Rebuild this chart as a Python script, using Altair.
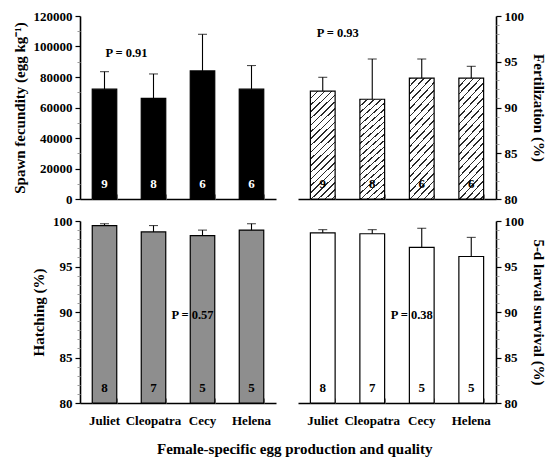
import altair as alt
import pandas as pd

# ---------------- data ----------------
cats = ["Juliet", "Cleopatra", "Cecy", "Helena"]

fec_mean = [72000, 66000, 84000, 72000]
fec_upper = [83500, 82000, 108000, 87500]
n_top = [9, 8, 6, 6]

fert_mean = [91.8, 90.9, 93.2, 93.2]
fert_upper = [93.3, 95.3, 95.3, 94.5]

hatch_mean = [99.5, 98.8, 98.4, 99.0]
hatch_upper = [99.7, 99.5, 99.0, 99.7]
n_bottom = [8, 7, 5, 5]

surv_mean = [98.7, 98.6, 97.1, 96.1]
surv_upper = [99.05, 99.05, 99.2, 98.2]

p_labels = ["P = 0.91", "P = 0.93", "P = 0.57", "P = 0.38"]
p_y = [95800, 98.1, 89.65, 89.65]

fec_major = [0, 20000, 40000, 60000, 80000, 100000, 120000]
fec_minor = [10000, 30000, 50000, 70000, 90000, 110000]
pct_major = [80, 85, 90, 95, 100]
pct_minor = [81, 82, 83, 84, 86, 87, 88, 89, 91, 92, 93, 94, 96, 97, 98, 99]

FONT = "Liberation Serif"

# ---------------- diagonal hatch fill (styling only) ----------------
bw, bh = 24.75, 112.0
period = 7.0
dt = period * bw / (bw * bw + bh * bh)
stops = []
i = 0
while i * dt < 0.34:
    o = i * dt
    stops += [
        alt.GradientStop(offset=round(o, 5), color="#2a2a2a"),
        alt.GradientStop(offset=round(o + 0.22 * dt, 5), color="#2a2a2a"),
        alt.GradientStop(offset=round(o + 0.22 * dt, 5), color="white"),
        alt.GradientStop(offset=round(o + dt, 5), color="white"),
    ]
    i += 1
hatch = alt.LinearGradient(gradient="linear", stops=stops, x1=0, y1=0, x2=1, y2=bh / bw)


def panel(mean, upper, n, plabel, p_cat, py, p_dx, y_dom, y_title, y_orient,
          major, minor, fill, n_color, width, height, show_labels, y_fmt, title_pad):
    df = pd.DataFrame({"cat": cats, "mean": mean, "upper": upper, "n": n,
                       "floor": [y_dom[0]] * 4})
    pdf = pd.DataFrame({"cat": [p_cat], "y": [py], "label": [plabel]})
    base = alt.Chart(df)
    xs = alt.Scale(domain=cats, paddingInner=0.5, paddingOuter=0.25)
    ys = alt.Scale(domain=y_dom, zero=False, nice=False)

    x_main = alt.X("cat:N", scale=xs, sort=cats,
                   axis=alt.Axis(title=None, labels=show_labels, ticks=False, tickSize=0,
                                 domain=True, domainWidth=1.6, labelAngle=0,
                                 labelPadding=11, orient="bottom"))
    y_main = alt.Y("mean:Q", scale=ys,
                   axis=alt.Axis(orient=y_orient, values=major, format=y_fmt, title=y_title,
                                 tickSize=5, tickWidth=1.2, domainWidth=1.6,
                                 labelPadding=3, titlePadding=title_pad))
    bars = base.mark_bar(fill=fill, stroke="black", strokeWidth=1.2).encode(
        x=x_main, y=y_main, y2="floor:Q")

    x_minor = alt.X("cat:N", scale=xs, sort=cats,
                    axis=alt.Axis(title=None, labels=False, domain=False, ticks=True,
                                  tickBand="extent", tickSize=5, tickColor="#8a8a8a",
                                  tickWidth=1, offset=-5, orient="bottom"))
    y_minor = alt.Y("mean:Q", scale=ys,
                    axis=alt.Axis(orient=y_orient, values=minor, labels=False, domain=False,
                                  title=None, tickSize=3, tickColor="#9a9a9a", tickWidth=1))
    whisk = base.mark_rule(color="black", strokeWidth=1.1).encode(
        x=x_minor, y=y_minor, y2="upper:Q")

    cap = base.mark_tick(color="black", thickness=1.1, size=9).encode(
        x=alt.X("cat:N", scale=xs, sort=cats, axis=None),
        y=alt.Y("upper:Q", scale=ys, axis=None))

    ntext = base.mark_text(font=FONT, fontWeight="bold", fontSize=13, color=n_color,
                           dy=-15, baseline="middle").encode(
        x=alt.X("cat:N", scale=xs, sort=cats, axis=None),
        y=alt.Y("floor:Q", scale=ys, axis=None),
        text="n:N")

    ptext = alt.Chart(pdf).mark_text(font=FONT, fontWeight="bold", fontSize=12.5,
                                     color="black", dx=p_dx, baseline="middle").encode(
        x=alt.X("cat:N", scale=xs, sort=cats, axis=None),
        y=alt.Y("y:Q", scale=ys, axis=None),
        text="label:N")

    return alt.layer(bars, whisk, cap, ntext, ptext).resolve_axis(
        x="independent", y="independent").properties(width=width, height=height)


tl = panel(fec_mean, fec_upper, n_top, p_labels[0], "Juliet", p_y[0], 22, [0, 120000],
           "Spawn fecundity (egg kg\u207b\u00b9)", "left", fec_major, fec_minor,
           "black", "white", 196, 183, False, "d", 6)
tr = panel(fert_mean, fert_upper, n_top, p_labels[1], "Juliet", p_y[1], 15, [80, 100],
           "Fertilization (%)", "right", pct_major, pct_minor,
           hatch, "black", 198, 183, False, "d", 7)
bl = panel(hatch_mean, hatch_upper, n_bottom, p_labels[2], "Cecy", p_y[2], -10, [80, 100],
           "Hatching (%)", "left", pct_major, pct_minor,
           "#8e8e8e", "black", 196, 182, True, "d", 6)
br = panel(surv_mean, surv_upper, n_bottom, p_labels[3], "Cecy", p_y[3], -10, [80, 100],
           "5-d larval survival (%)", "right", pct_major, pct_minor,
           "white", "black", 198, 182, True, "d", 7)

chart = alt.concat(tl, tr, bl, br, columns=2, spacing=22, bounds="flush").properties(
    title=alt.TitleParams(text="Female-specific egg production and quality",
                          orient="bottom", anchor="middle", font=FONT, fontSize=15,
                          fontWeight="bold", color="black", offset=15, dx=16),
    padding={"left": 4, "top": 2, "right": 0, "bottom": 0},
).configure_axis(
    labelFont=FONT, labelFontWeight="bold", labelFontSize=13, labelColor="black",
    titleFont=FONT, titleFontWeight="bold", titleFontSize=15, titleColor="black",
    domainColor="black", tickColor="black", grid=False,
).configure_view(stroke=None)

chart.save("out.html", embed_options={"renderer": "svg", "actions": False})
